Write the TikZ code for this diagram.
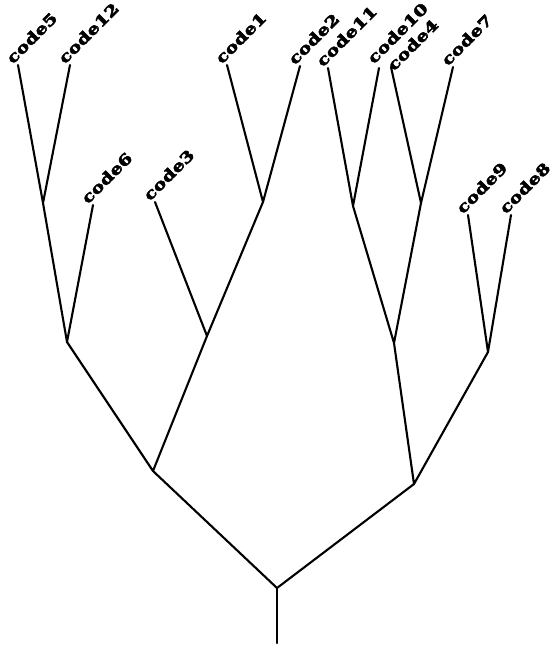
\documentclass[tikz,border=0pt]{standalone}
\usepackage{fontspec}
\setmainfont{DejaVu Serif}
\newfontfamily\lblfont[FakeBold=3.5,FakeStretch=1.3]{DejaVu Serif Bold}
\begin{document}
\begin{tikzpicture}[x=1pt,y=-1pt,
  br/.style={line width=2.1pt, line cap=round, line join=round},
  lbl/.style={rotate=45, anchor=south west, inner sep=0pt, font=\lblfont\fontsize{15}{15}\selectfont}]
\useasboundingbox (0,0) rectangle (557,645);
% leaves
\coordinate (l5) at (18,65);
\coordinate (l12) at (70,65);
\coordinate (l1) at (227,65);
\coordinate (l2) at (300,66);
\coordinate (l11) at (328,68);
\coordinate (l10) at (379,68);
\coordinate (l4) at (391,67);
\coordinate (l7) at (453,67);
\coordinate (l6) at (93,205);
\coordinate (l3) at (155,202);
\coordinate (l9) at (468,215);
\coordinate (l8) at (511,215);
% internal
\coordinate (A) at (43,203);
\coordinate (B) at (67,342);
\coordinate (C) at (263,202);
\coordinate (D) at (207,336);
\coordinate (E) at (153,471);
\coordinate (F) at (353,206);
\coordinate (G) at (421,203);
\coordinate (H) at (394,343);
\coordinate (I) at (488,352);
\coordinate (J) at (414,484);
\coordinate (R) at (277,588);
\coordinate (S) at (277,643);
% branches
\draw[br] (l5) -- (A) -- (l12);
\draw[br] (A) -- (B) -- (l6);
\draw[br] (l1) -- (C) -- (l2);
\draw[br] (l3) -- (D) -- (C);
\draw[br] (B) -- (E) -- (D);
\draw[br] (l11) -- (F) -- (l10);
\draw[br] (l4) -- (G) -- (l7);
\draw[br] (F) -- (H) -- (G);
\draw[br] (l9) -- (I) -- (l8);
\draw[br] (H) -- (J) -- (I);
\draw[br] (E) -- (R) -- (J);
\draw[br] (R) -- (S);
% labels
\node[lbl] (t5) at ([shift={(-5,0)}]l5) {code5};
\node[lbl] (t12) at ([shift={(-5,0)}]l12) {code12};
\node[lbl] (t1) at ([shift={(-5,0)}]l1) {code1};
\node[lbl] (t2) at ([shift={(-5,0)}]l2) {code2};
\node[lbl] (t11) at ([shift={(-5,0)}]l11) {code11};
\node[lbl] (t10) at ([shift={(-5,-3)}]l10) {code10};
\node[lbl] (t4) at ([shift={(3,5)}]l4) {code4};
\node[lbl] (t7) at ([shift={(-5,0)}]l7) {code7};
\node[lbl] (t6) at ([shift={(-5,0)}]l6) {code6};
\node[lbl] (t3) at ([shift={(-5,0)}]l3) {code3};
\node[lbl] (t9) at ([shift={(-5,0)}]l9) {code9};
\node[lbl] (t8) at ([shift={(-5,0)}]l8) {code8};
\end{tikzpicture}
\end{document}
